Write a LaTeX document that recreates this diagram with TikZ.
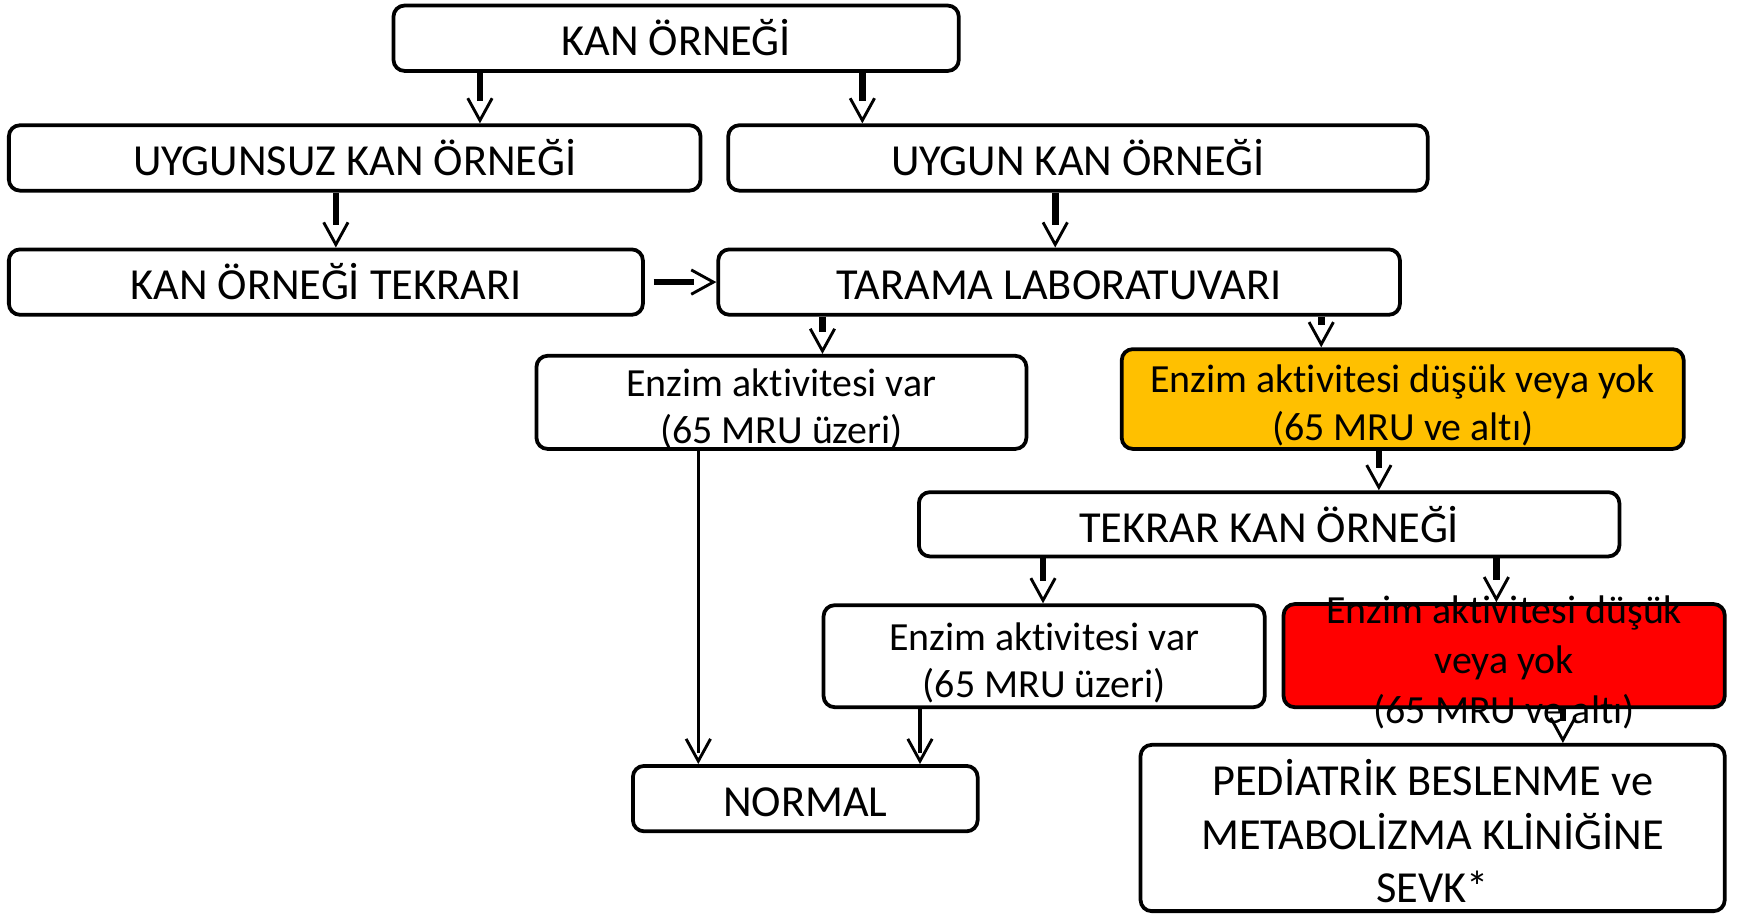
\documentclass[tikz,border=0pt]{standalone}
\usepackage{fontspec}
\setmainfont{Carlito}[Ligatures=NoCommon]
\usepackage{tikz}
\usetikzlibrary{arrows.meta, decorations.markings}

\definecolor{dusukfill}{HTML}{FFC000}
\definecolor{sevkfill}{HTML}{FF0000}

\begin{document}
\begin{tikzpicture}[
    x=0.5pt, y=0.5pt,
    box/.style={rectangle, rounded corners=5pt, draw=black, line width=1.7pt, inner sep=0pt, align=center, font=\fontsize{20}{24}\selectfont},
    single/.style={box, text height=16pt, text depth=0pt},
    enzim/.style={box, font=\fontsize{18}{21.5}\selectfont, text height=39.5pt, text depth=2pt},
    vtip/.style={postaction={decorate, decoration={markings, mark=at position 1 with {\arrow[line width=1.3pt]{Straight Barb[length=10pt, width=11pt]}}}}},
    arrow/.style={vtip, line width=3pt, shorten >=10pt},
    thinarrow/.style={vtip, line width=1.5pt, shorten >=5pt}
]
\useasboundingbox (0,0) rectangle (1568,-824);

% Boxes
\node[single, minimum width=255pt, minimum height=29.5pt] (kan) at (610,-34.5) {KAN ÖRNEĞİ};
\node[single, minimum width=312pt, minimum height=29.5pt] (uygunsuz) at (320,-142.5) {UYGUNSUZ KAN ÖRNEĞİ};
\node[single, minimum width=315.5pt, minimum height=29.5pt] (uygun) at (972.5,-142.5) {UYGUN KAN ÖRNEĞİ};
\node[single, minimum width=286pt, minimum height=29.5pt] (tekrari) at (294,-254.5) {KAN ÖRNEĞİ TEKRARI};
\node[single, minimum width=307.5pt, minimum height=29.5pt] (tarama) at (955.5,-254.5) {TARAMA LABORATUVARI};
\node[enzim, minimum width=221pt, minimum height=42pt] (var1) at (705,-363) {Enzim aktivitesi var\\(65 MRU üzeri)};
\node[enzim, fill=dusukfill, minimum width=253.5pt, minimum height=45pt] (dusuk1) at (1265.5,-360) {Enzim aktivitesi düşük veya yok\\(65 MRU ve altı)};
\node[single, minimum width=316pt, minimum height=29pt] (tekrarkan) at (1145,-473) {TEKRAR KAN ÖRNEĞİ};
\node[enzim, minimum width=199pt, minimum height=46pt] (var2) at (942,-592) {Enzim aktivitesi var\\(65 MRU üzeri)};
\node[box, fill=sevkfill, minimum width=199pt, minimum height=46.5pt,
      label={[font=\fontsize{18}{22.5}\selectfont, align=center, yshift=-3pt]center:Enzim aktivitesi düşük\\veya yok\\(65 MRU ve altı)}] (dusuk2) at (1357,-591.5) {};
\node[single, minimum width=155.5pt, minimum height=29.5pt] (normal) at (726.5,-720.5) {NORMAL};
\node[box, text height=67pt, text depth=0pt, minimum width=263.5pt, minimum height=75pt] (ped) at (1292.5,-747) {PEDİATRİK BESLENME ve\\METABOLİZMA KLİNİĞİNE\\SEVK*};

% Arrows
\draw[arrow] (kan.south -| 433,0) -- (uygunsuz.north -| 433,0);
\draw[arrow] (kan.south -| 778,0) -- (uygun.north -| 778,0);
\draw[arrow] (uygunsuz.south -| 303,0) -- (tekrari.north -| 303,0);
\draw[arrow] (uygun.south -| 952,0) -- (tarama.north -| 952,0);
\draw[arrow] ([xshift=4pt]tekrari.east) -- (tarama.west);
\draw[arrow] (tarama.south -| 742,0) -- (var1.north -| 742,0);
\draw[arrow] (tarama.south -| 1192,0) -- (dusuk1.north -| 1192,0);
\draw[arrow] (dusuk1.south -| 1244,0) -- (tekrarkan.north -| 1244,0);
\draw[arrow] (tekrarkan.south -| 941,0) -- (var2.north -| 941,0);
\draw[arrow] (tekrarkan.south -| 1350,0) -- (dusuk2.north -| 1350,0);
\draw[thinarrow] (var1.south -| 630,0) -- (normal.north -| 630,0);
\draw[thinarrow] (var2.south -| 830,0) -- (normal.north -| 830,0);
\draw[arrow] (dusuk2.south -| 1410,0) -- (ped.north -| 1410,0);

\end{tikzpicture}
\end{document}
